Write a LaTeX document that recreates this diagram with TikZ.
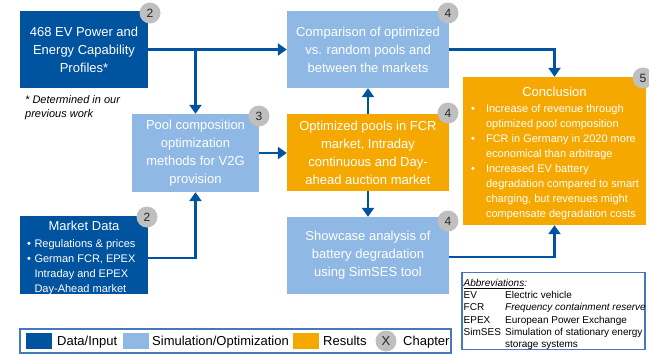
\documentclass[tikz,border=0pt]{standalone}
\usepackage{fontspec}
\setmainfont{Liberation Sans}
\usetikzlibrary{arrows.meta}
\definecolor{dblue}{RGB}{0,83,159}
\definecolor{lblue}{RGB}{143,185,228}
\definecolor{ored}{RGB}{245,168,0}
\definecolor{badgegrey}{RGB}{191,191,191}
\definecolor{framblue}{RGB}{70,120,190}
\begin{document}
\begin{tikzpicture}[x=1pt,y=-1pt,
  boxbase/.style={rectangle,inner sep=0pt,align=center,text=white,
    font=\fontsize{13}{18}\selectfont},
  databox/.style={boxbase,fill=dblue},
  simbox/.style={boxbase,fill=lblue},
  resbox/.style={boxbase,fill=ored},
  badge/.style={circle,fill=badgegrey,minimum size=21pt,inner sep=0pt,
    text=black!85,font=\fontsize{12}{14}\selectfont},
  arr/.style={draw=dblue,line width=2.8pt,
    -{Triangle[length=9pt,width=12pt]}},
  plainline/.style={draw=dblue,line width=2.8pt},
  plaintext/.style={inner sep=0pt},
  legtext/.style={inner sep=0pt,anchor=base west,font=\fontsize{13}{16}\selectfont},
  frame/.style={draw=framblue,line width=1.2pt,fill=white}
]
\useasboundingbox (0,0) rectangle (649,354);

% boxes
\node[databox,minimum width=128pt,minimum height=77pt] (prof) at (84,49.5)
  {468 EV Power and\\Energy Capability\\Profiles*};
\node[simbox,minimum width=127pt,minimum height=78pt] (pool) at (195.5,153)
  {Pool composition\\optimization\\methods for V2G\\provision};
\node[databox,minimum width=128pt,minimum height=78pt] (market) at (84,255) {};
\node[simbox,minimum width=162pt,minimum height=77pt] (comp) at (368,49.5)
  {Comparison of optimized\\vs. random pools and\\between the markets};
\node[resbox,minimum width=162pt,minimum height=77pt] (opt) at (368,152.5)
  {Optimized pools in FCR\\market, Intraday\\continuous and Day-\\ahead auction market};
\node[simbox,minimum width=162pt,minimum height=77pt] (show) at (368,255.5)
  {Showcase analysis of\\battery degradation\\using SimSES tool};
\node[resbox,minimum width=183pt,minimum height=148pt] (concl) at (554.5,151) {};

% market text
\node[plaintext,anchor=base,text=white,font=\fontsize{13}{16}\selectfont] (markethead) at (84,230.7) {Market Data};
\node[plaintext,anchor=base west,text=white,font=\fontsize{11}{15}\selectfont] (marketlist) at (27,247)
  {\begin{tabular}[t]{@{}l@{\hspace{3.5pt}}l@{}}
  • & Regulations \& prices\\
  • & German FCR, EPEX\\
    & Intraday and EPEX\\
    & Day-Ahead market
  \end{tabular}};

% conclusion text
\node[plaintext,anchor=base,text=white,font=\fontsize{13}{16}\selectfont] (conclhead) at (554.5,96.7) {Conclusion};
\node[plaintext,anchor=base west,text=white,font=\fontsize{11}{15}\selectfont] (concllist) at (471,112)
  {\begin{tabular}[t]{@{}l@{\hspace{11pt}}l@{}}
  • & Increase of revenue through\\
    & optimized pool composition\\
  • & FCR in Germany in 2020 more\\
    & economical than arbitrage\\
  • & Increased EV battery\\
    & degradation compared to smart\\
    & charging, but revenues might\\
    & compensate degradation costs
  \end{tabular}};

% footnote
\node[plaintext,anchor=base west,font=\fontsize{11}{14}\selectfont\itshape] (foot) at (25,103)
  {\begin{tabular}[t]{@{}l@{}}* Determined in our\\previous work\end{tabular}};

% badges
\node[badge] (b1) at (150,13) {2};
\node[badge] (b2) at (259,116) {3};
\node[badge] (b3) at (147,217) {2};
\node[badge] (b4) at (448,13) {4};
\node[badge] (b5) at (448,113) {4};
\node[badge] (b6) at (448,221) {4};
\node[badge] (b7) at (643,78) {5};

% connectors
\draw[arr] (prof.east) -- (comp.west);
\coordinate (branch) at (prof.east -| pool.north);
\draw[arr] (branch) -- (pool.north);
\draw[arr] ([yshift=-3pt]market.east) -| (pool.south);
\draw[arr] (pool.east) -- (opt.west |- pool.east);
\draw[arr] (opt.north) -- (comp.south);
\draw[arr] (opt.south) -- (show.north);
\draw[arr] (comp.east) -| (concl.north);
\draw[arr] ([yshift=-1.5pt]show.east) -| (concl.south);

% abbreviations
\node[frame,minimum width=183pt,minimum height=77pt,inner sep=0pt] (abbr) at (553.5,311) {};
\node[plaintext,anchor=base west,font=\fontsize{10}{12.2}\selectfont] (abbrtext) at (463.5,286.4)
  {\begin{tabular}[t]{@{}p{41.5pt}@{}l@{}}
  \multicolumn{2}{@{}l@{}}{\itshape\underline{Abbreviations}:}\\
  EV & Electric vehicle\\
  FCR & \itshape Frequency containment reserve\\
  EPEX & European Power Exchange\\
  SimSES & Simulation of stationary energy\\
   & storage systems
  \end{tabular}};

% legend
\node[frame,minimum width=431pt,minimum height=24pt,inner sep=0pt] (legend) at (235.5,341) {};
\node[rectangle,fill=dblue,minimum width=26pt,minimum height=16pt,inner sep=0pt] (sw1) at (39,341) {};
\node[legtext] (lt1) at (57,345.6) {Data/Input};
\node[rectangle,fill=lblue,minimum width=26pt,minimum height=16pt,inner sep=0pt] (sw2) at (135.5,341) {};
\node[legtext] (lt2) at (152,345.6) {Simulation/Optimization};
\node[rectangle,fill=ored,minimum width=26pt,minimum height=16pt,inner sep=0pt] (sw3) at (305.5,341) {};
\node[legtext] (lt3) at (323,345.6) {Results};
\node[badge,font=\fontsize{13}{16}\selectfont] (sw4) at (386,341) {X};
\node[legtext] (lt4) at (403,345.6) {Chapter};
\end{tikzpicture}
\end{document}
